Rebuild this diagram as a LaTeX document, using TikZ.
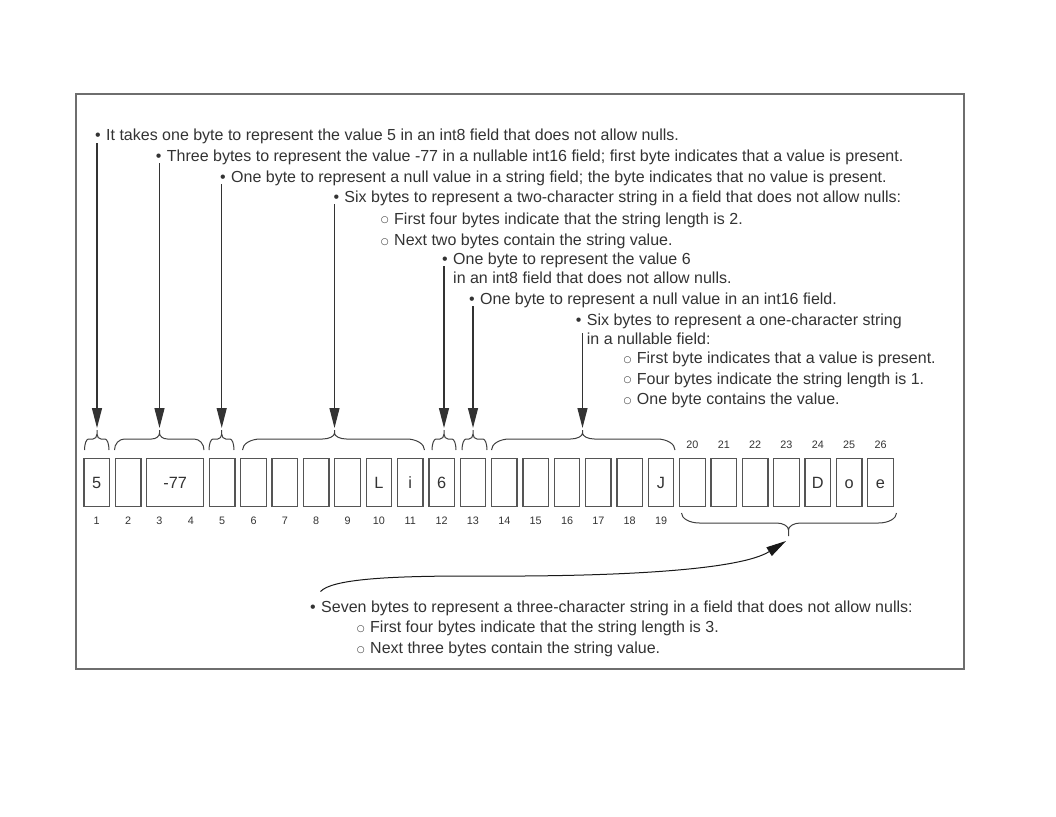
\documentclass[tikz,border=0pt]{standalone}
\usepackage{fontspec}
\setmainfont{Liberation Sans}
\newfontfamily\symfont{DejaVu Sans}
\usetikzlibrary{arrows.meta}
\definecolor{txt}{HTML}{333333}
\definecolor{boxc}{HTML}{555555}
\definecolor{framec}{HTML}{6E6E6E}
\newcommand\bul{\llap{\textbullet\hspace{5.4pt}}}
\newcommand\sbul{\llap{\raisebox{1.5pt}{\symfont\fontsize{9}{9}\selectfont ○}\hspace{5.5pt}}}
% x1 x2 xm r1 r2 yend yflat ycurve ytip
\newcommand\hbr[9]{%
\draw[bracestyle] (#1,#6) .. controls (#1,{#6+0.552*(#7-#6)}) and ({#1+0.448*#4},#7) .. ({#1+#4},#7)
 -- ({#3-#5},#7) .. controls ({#3-0.448*#5},#7) and (#3,{#8+0.552*(#7-#8)}) .. (#3,#8) -- (#3,#9)
 (#3,#8) .. controls (#3,{#8+0.552*(#7-#8)}) and ({#3+0.448*#5},#7) .. ({#3+#5},#7)
 -- ({#2-#4},#7) .. controls ({#2-0.448*#4},#7) and (#2,{#6+0.552*(#7-#6)}) .. (#2,#6);}
\begin{document}
\begin{tikzpicture}[x=1pt,y=-1pt,
 every node/.style={text=txt},
 desc/.style={anchor=base west, inner sep=0pt, font=\fontsize{16}{18.6}\selectfont, align=left},
 byte/.style={draw=boxc, line width=1.3pt, minimum width=25.5pt, minimum height=48pt, inner sep=0pt,
   text height=11.6pt, text depth=0pt, font=\fontsize{16.3}{16}\selectfont},
 idx/.style={inner sep=0pt, text height=7.7pt, text depth=0pt, font=\fontsize{10.8}{10.8}\selectfont},
 conn/.style={draw=black!80, line width=1.2pt, -{Triangle[length=20pt,width=10pt]}},
 bracestyle/.style={draw=black!75, line width=1pt}]
\fill[white] (0,0) rectangle (1056,816);
\useasboundingbox (0,0) rectangle (1056,816);
\draw[framec, line width=1.3pt] (76,94) rectangle (964,669);

% byte boxes
\foreach \i/\t in {1/5,2/,5/,6/,7/,8/,9/,10/L,11/i,12/6,13/,14/,15/,16/,17/,18/,19/J,20/,21/,22/,23/,24/D,25/o,26/e}
  \node[byte] (b\i) at ({96.75+(\i-1)*31.35},482.5) {\t};
\node[byte, minimum width=57pt] (b3) at (175.1,482.5) {-77};

% index numbers
\foreach \i in {1,...,19}
  \node[idx] (n\i) at ({96.75+(\i-1)*31.35},520.3) {\i};
\foreach \i in {20,...,26}
  \node[idx] (n\i) at ({96.75+(\i-1)*31.35},444.5) {\i};

% braces
\hbr{84.5}{109}{97}{4}{4}{450}{439}{434}{430}
\hbr{114.5}{204}{159.5}{10}{8}{450}{439}{433}{430}
\hbr{209}{234}{221.7}{4}{4}{450}{439}{434}{430}
\hbr{242.5}{424.5}{334.5}{18}{12}{450}{439}{433}{430}
\hbr{432}{456}{444}{4}{4}{450}{439}{434}{430}
\hbr{462}{487}{473}{4}{4}{450}{439}{434}{430}
\hbr{491.5}{675}{582.5}{18}{12}{450}{439}{433}{430}
\hbr{681.5}{896.5}{788.5}{18}{12}{513}{523}{530}{536}

% descriptions
\node[desc] (d1) at (106,140.5) {\bul It takes one byte to represent the value 5 in an int8 field that does not allow nulls.};
\node[desc] (d2) at (166.7,161.5) {\bul Three bytes to represent the value -77 in a nullable int16 field; first byte indicates that a value is present.};
\node[desc] (d3) at (231,182.5) {\bul One byte to represent a null value in a string field; the byte indicates that no value is present.};
\node[desc] (d4) at (344.3,202.5) {\bul Six bytes to represent a two-character string in a field that does not allow nulls:};
\node[desc] (d4a) at (394,224) {\sbul First four bytes indicate that the string length is 2.};
\node[desc] (d4b) at (394,245.5) {\sbul Next two bytes contain the string value.};
\node[desc, font=\fontsize{16}{18.4}\selectfont] (d5) at (453,283.2) {\bul One byte to represent the value 6\\in an int8 field that does not allow nulls.};
\node[desc] (d6) at (480,304.8) {\bul One byte to represent a null value in an int16 field.};
\node[desc, font=\fontsize{16}{19}\selectfont] (d7) at (586.7,344.5) {\bul Six bytes to represent a one-character string\\in a nullable field:};
\node[desc] (d7a) at (636.7,363.6) {\sbul First byte indicates that a value is present.};
\node[desc] (d7b) at (636.7,384.3) {\sbul Four bytes indicate the string length is 1.};
\node[desc] (d7c) at (636.7,404.8) {\sbul One byte contains the value.};
\node[desc] (d8) at (321,612.5) {\bul Seven bytes to represent a three-character string in a field that does not allow nulls:};
\node[desc] (d8a) at (370,632.8) {\sbul First four bytes indicate that the string length is 3.};
\node[desc] (d8b) at (370,653.5) {\sbul Next three bytes contain the string value.};

% connector ends
\coordinate (s1) at (97,143);    \coordinate (e1) at (97,428);
\coordinate (s2) at (159.5,163); \coordinate (e2) at (159.5,428);
\coordinate (s3) at (221.7,184); \coordinate (e3) at (221.7,428);
\coordinate (s4) at (334.5,204); \coordinate (e4) at (334.5,428);
\coordinate (s5) at (444,266);   \coordinate (e5) at (444,428);
\coordinate (s6) at (473,306);   \coordinate (e6) at (473,428);
\coordinate (s7) at (582.5,333); \coordinate (e7) at (582.5,428);
\coordinate (s8) at (320.5,591.5); \coordinate (e8) at (786,541);

\foreach \k in {1,...,7} \draw[conn] (s\k) -- (e\k);
\draw[draw=black!90, line width=1pt, -{Triangle[length=20pt,width=10pt]}]
  (s8) .. controls (332,579) and (390,576) .. (470,576)
  .. controls (620,577) and (740,570) .. (e8);
\end{tikzpicture}
\end{document}
